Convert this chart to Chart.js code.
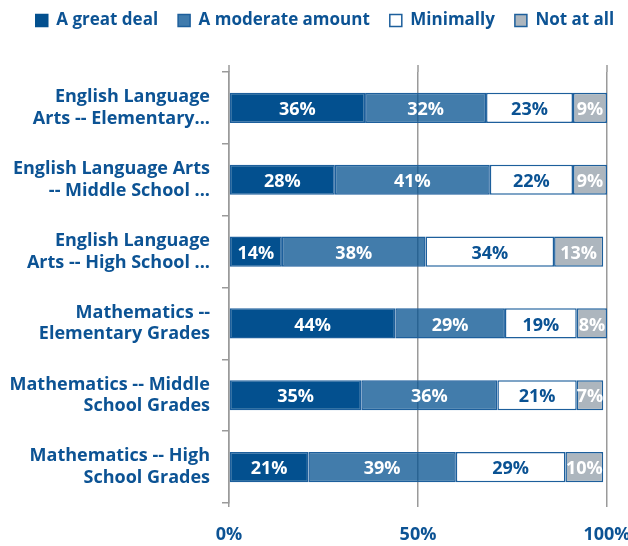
<!DOCTYPE html>
<html>
<head>
<meta charset="utf-8">
<script src="https://cdn.jsdelivr.net/npm/chart.js@4.4.1/dist/chart.umd.min.js"></script>
<style>
  html, body { margin: 0; padding: 0; background: #fff; }
  #wrap { width: 628px; height: 546px; }
</style>
</head>
<body>
<div id="wrap"><canvas id="barChart" width="628" height="546"></canvas></div>
<script>
// Chart values
const categories = [
  ["English Language", "Arts -- Elementary..."],
  ["English Language Arts", "-- Middle School ..."],
  ["English Language", "Arts -- High School ..."],
  ["Mathematics --", "Elementary Grades"],
  ["Mathematics -- Middle", "School Grades"],
  ["Mathematics -- High", "School Grades"]
];
const seriesNames = ["A great deal", "A moderate amount", "Minimally", "Not at all"];
const greatDeal = [36, 28, 14, 44, 35, 21];
const moderate = [32, 41, 38, 29, 36, 39];
const minimally = [23, 22, 34, 19, 21, 29];
const notAtAll = [9, 9, 13, 8, 7, 10];
const xTicks = [0, 50, 100];

// moderate is a see-through blue so the 50% gridline shows through it
const fillColors = ["#03508f", "rgba(3,80,143,0.75)", "#ffffff", "#adb6be"];
const labelColors = ["#ffffff", "#ffffff", "#0a5293", "#ffffff"];
const textBlue = "#0c5394";
const gridGray = "#9a9a9a";
const fontFamily = "'Open Sans', 'DejaVu Sans', sans-serif";

// draws the percentage inside each segment
const segmentLabels = {
  id: "segmentLabels",
  beforeInit(chart) {
    // push the plot down below the legend
    const fit = chart.legend.fit;
    chart.legend.fit = function () {
      fit.call(this);
      this.height += 33;
    };
  },
  afterLayout(chart) {
    // legend sits a bit right of centre in the original
    chart.legend.left += 9;
    chart.legend.right += 9;
  },
  afterDatasetsDraw(chart) {
    const ctx = chart.ctx;
    ctx.save();
    ctx.font = "bold 18px " + fontFamily;
    ctx.textAlign = "center";
    ctx.textBaseline = "middle";
    chart.data.datasets.forEach(function (ds, i) {
      const meta = chart.getDatasetMeta(i);
      meta.data.forEach(function (bar, j) {
        const x = (bar.x + bar.base) / 2;
        ctx.fillStyle = labelColors[i];
        ctx.fillText(ds.data[j] + "%", x, bar.y + 2);
      });
    });
    // gridlines poke a little above the plot
    const xs = chart.scales.x;
    ctx.strokeStyle = gridGray;
    ctx.lineWidth = 1.5;
    xTicks.forEach(function (v) {
      const px = xs.getPixelForValue(v);
      ctx.beginPath();
      ctx.moveTo(px, chart.chartArea.top - 7);
      ctx.lineTo(px, chart.chartArea.top);
      ctx.stroke();
    });
    ctx.restore();
  }
};

const datasets = [greatDeal, moderate, minimally, notAtAll].map(function (vals, i) {
  return {
    label: seriesNames[i],
    data: vals,
    backgroundColor: fillColors[i],
    borderColor: "#1d5f9c",
    borderWidth: 1.5,
    borderSkipped: false,
    barPercentage: 0.42,
    categoryPercentage: 1.0
  };
});

const ctx = document.getElementById("barChart").getContext("2d");
const barChart = new Chart(ctx, {
  type: "bar",
  data: { labels: categories, datasets: datasets },
  plugins: [segmentLabels],
  options: {
    indexAxis: "y",
    responsive: false,
    animation: false,
    layout: { padding: { left: 4, right: 0, top: -8, bottom: -17 } },
    plugins: {
      tooltip: { enabled: false },
      legend: {
        position: "top",
        align: "center",
        labels: {
          boxWidth: 12,
          boxHeight: 12,
          padding: 20,
          color: textBlue,
          font: { family: fontFamily, size: 17, weight: "bold" },
          generateLabels: function (chart) {
            return chart.data.datasets.map(function (ds, i) {
              return {
                text: ds.label,
                fillStyle: i === 1 ? "#3f7bad" : fillColors[i],
                strokeStyle: i === 0 ? fillColors[0] : "#1d5f9c",
                lineWidth: 1.5,
                fontColor: textBlue,
                datasetIndex: i
              };
            });
          }
        }
      }
    },
    scales: {
      x: {
        stacked: true,
        min: 0,
        max: 100,
        afterBuildTicks: function (scale) {
          scale.ticks = xTicks.map(function (v) { return { value: v }; });
        },
        afterFit: function (scale) {
          scale.paddingLeft = 0;
          scale.paddingRight = 21;
        },
        ticks: {
          color: textBlue,
          padding: 19,
          font: { family: fontFamily, size: 18, weight: "bold", lineHeight: 1 },
          callback: function (v) { return v + "%"; }
        },
        grid: { color: gridGray, lineWidth: 1.5, tickLength: 4 },
        border: { display: false }
      },
      y: {
        stacked: true,
        afterFit: function (scale) { scale.width = 225; },
        ticks: {
          color: textBlue,
          padding: 12,
          font: { family: fontFamily, size: 18, weight: "bold", lineHeight: 1.2 }
        },
        grid: { drawOnChartArea: false, color: gridGray, lineWidth: 1.5, tickLength: 7 },
        border: { display: true, color: gridGray, width: 1.5 }
      }
    }
  }
});
</script>
</body>
</html>
